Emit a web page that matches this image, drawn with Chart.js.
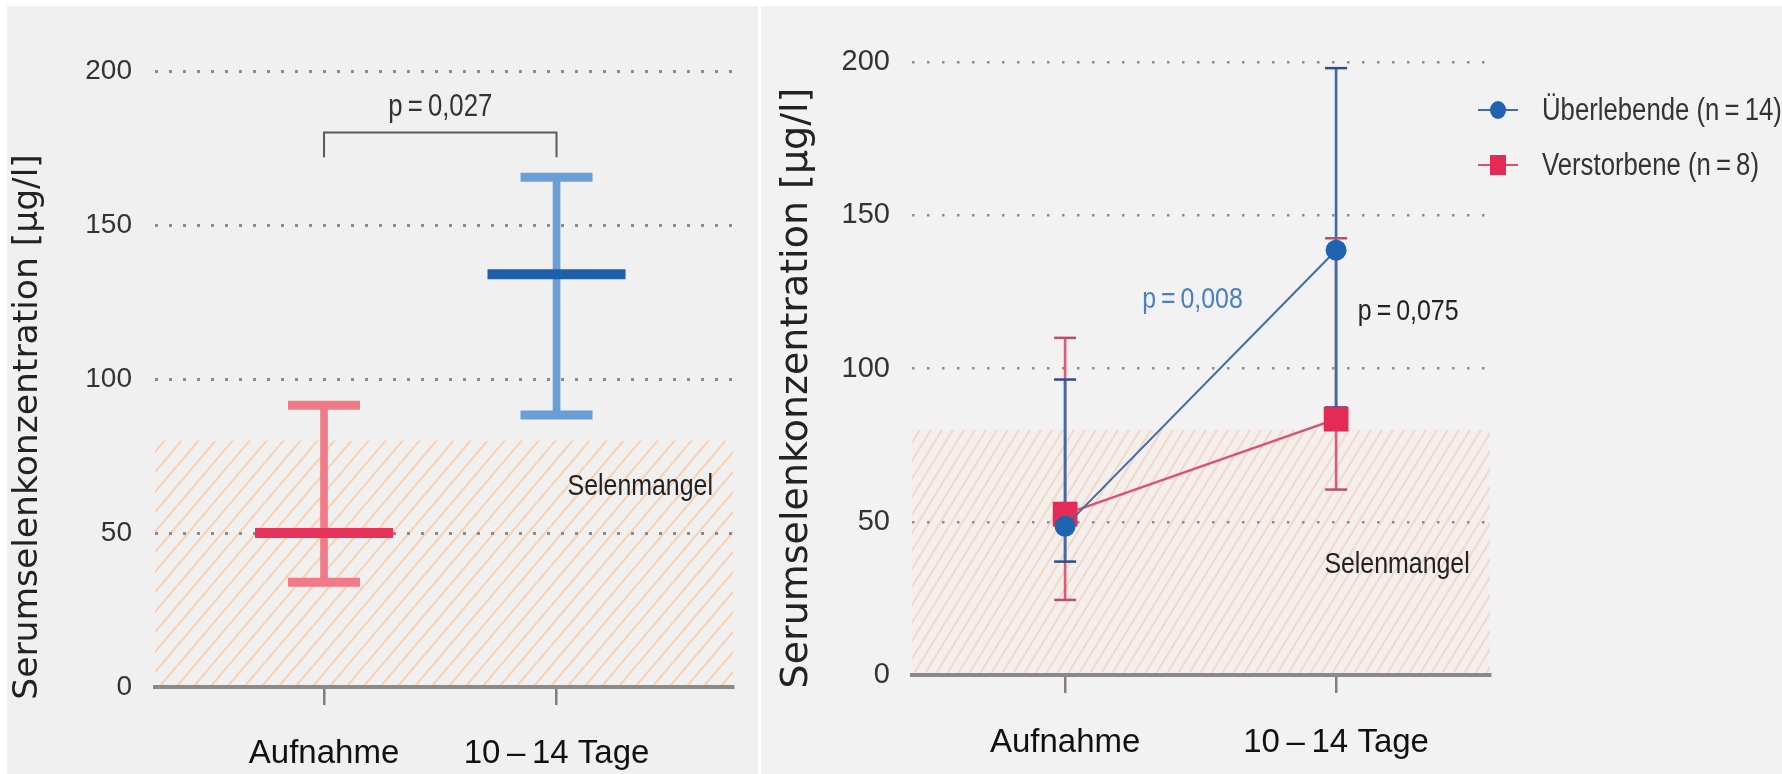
<!DOCTYPE html>
<html>
<head>
<meta charset="utf-8">
<script src="https://cdn.jsdelivr.net/npm/chart.js@4.4.0/dist/chart.umd.min.js"></script>
<style>
  html, body { margin: 0; padding: 0; background: #fff; }
  body { width: 1782px; height: 774px; position: relative; overflow: hidden; }
  .panel { position: absolute; top: 6px; height: 768px; }
  #leftPanel { left: 7px; width: 751px; background: #f0f0f0; }
  #rightPanel { left: 761px; width: 1021px; background: #f2f2f2; }
</style>
</head>
<body>
<div class="panel" id="leftPanel"><canvas id="left" width="751" height="768"></canvas></div>
<div class="panel" id="rightPanel"><canvas id="right" width="1021" height="768"></canvas></div>
<script>
// --------------------------------
// || Data
// --------------------------------

const categories = ['Aufnahme', '10\u2009\u2013\u200914 Tage'];
const yTicks = [0, 50, 100, 150, 200];
const deficiencyLimit = 80;

// left: all patients
const allMean = [50, 134];
const allLow = [34, 88.3];
const allHigh = [91.5, 165.5];

// right: survivors vs. deceased
const survivorsMean = [48.5, 138.6];
const survivorsLow = [37, 87.3];
const survivorsHigh = [96.4, 198];
const deceasedMean = [52.5, 83.5];
const deceasedLow = [24.5, 60.5];
const deceasedHigh = [110, 142.5];

// --------------------------------
// || Helpers
// --------------------------------

const sans = "'Liberation Sans', Arial, sans-serif";
const wide = "'DejaVu Sans', Verdana, sans-serif";
const axisTitle = 'Serumselenkonzentration [\u00b5g/l]';
const squeeze = 0.83; // the original uses a narrow face

const toPoints = (ys) => ys.map((y, i) => ({ x: i, y: y }));
const toRanges = (lo, hi) => lo.map((l, i) => ({ x: i, y: [l, hi[i]] }));
const capPoints = (lo, hi) => toPoints(lo).concat(toPoints(hi));

function narrowText(ctx, text, x, y, align) {
    ctx.save();
    ctx.translate(x, y);
    ctx.scale(squeeze, 1);
    ctx.textAlign = align;
    ctx.fillText(text, 0, 0);
    ctx.restore();
}

function hatchPattern(ctx, w, h, line, bg, lw) {
    const c = document.createElement('canvas');
    c.width = w;
    c.height = h;
    const g = c.getContext('2d');
    if (bg) {
        g.fillStyle = bg;
        g.fillRect(0, 0, w, h);
    }
    g.strokeStyle = line;
    g.lineWidth = lw;
    g.beginPath();
    for (let k = -1; k <= 1; k++) {
        g.moveTo(k * w, h);
        g.lineTo(k * w + w, 0);
    }
    g.stroke();
    return ctx.createPattern(c, 'repeat');
}

// hatched "Selenmangel" band, drawn under the grid
const hatchPlugin = {
    id: 'hatch',
    beforeDraw(chart, args, opts) {
        const { ctx, chartArea: a, scales: { y } } = chart;
        const top = y.getPixelForValue(deficiencyLimit);
        const bottom = y.getPixelForValue(0);
        ctx.save();
        ctx.fillStyle = hatchPattern(ctx, opts.w, opts.h, opts.line, opts.bg, opts.lw);
        ctx.fillRect(a.left, top, a.right - a.left, bottom - top);
        ctx.restore();
    }
};

// texts, bracket, rotated y title, legend
const notesPlugin = {
    id: 'notes',
    afterDraw(chart, args, opts) {
        const { ctx, scales: { x, y } } = chart;
        ctx.save();
        ctx.textBaseline = 'alphabetic';
        (opts.texts || []).forEach(t => {
            ctx.font = t.font;
            ctx.fillStyle = t.color;
            narrowText(ctx, t.text, x.getPixelForValue(t.x), y.getPixelForValue(t.y), 'center');
        });
        if (opts.bracket) {
            const b = opts.bracket;
            const x0 = x.getPixelForValue(0), x1 = x.getPixelForValue(1);
            const yt = y.getPixelForValue(b.top), yb = y.getPixelForValue(b.bottom);
            ctx.strokeStyle = '#5a5a5a';
            ctx.lineWidth = 2;
            ctx.beginPath();
            ctx.moveTo(x0, yb);
            ctx.lineTo(x0, yt);
            ctx.lineTo(x1, yt);
            ctx.lineTo(x1, yb);
            ctx.stroke();
        }
        if (opts.title) {
            const t = opts.title;
            ctx.save();
            ctx.translate(t.cx, t.cy);
            ctx.rotate(-Math.PI / 2);
            ctx.font = t.font;
            ctx.fillStyle = '#222';
            ctx.textAlign = 'center';
            ctx.textBaseline = 'middle';
            ctx.fillText(axisTitle, 0, 0);
            ctx.restore();
        }
        if (opts.legend) {
            const l = opts.legend;
            chart.data.datasets.filter(d => d.legend).forEach((d, i) => {
                const cy = l.y + i * l.gap;
                ctx.strokeStyle = d.borderColor;
                ctx.lineWidth = 2;
                ctx.beginPath();
                ctx.moveTo(l.x - 20, cy);
                ctx.lineTo(l.x + 20, cy);
                ctx.stroke();
                ctx.fillStyle = d.pointBackgroundColor;
                if (d.pointStyle === 'circle') {
                    ctx.beginPath();
                    ctx.ellipse(l.x, cy, 8, 9, 0, 0, Math.PI * 2);
                    ctx.fill();
                } else {
                    ctx.fillRect(l.x - 8, cy - 10, 16, 20);
                }
                ctx.font = l.font;
                ctx.fillStyle = '#333';
                ctx.textBaseline = 'middle';
                narrowText(ctx, d.label, l.x + 44, cy + 1, 'left');
            });
        }
        ctx.restore();
    }
};

function baseScales(o) {
    return {
        x: {
            type: 'linear',
            min: o.xMin,
            max: o.xMax,
            offset: false,
            afterBuildTicks: s => { s.ticks = categories.map((c, i) => ({ value: i })); },
            afterFit: s => {
                s.height = o.xHeight;
                s.paddingLeft = 0;
                s.paddingRight = 0;
            },
            grid: { offset: false, drawOnChartArea: false, drawTicks: true, tickLength: 18, color: '#808080', lineWidth: 2.5 },
            border: { display: true, color: '#8a8a8a', width: 4 },
            ticks: {
                callback: v => categories[v],
                autoSkip: false,
                maxRotation: 0,
                padding: o.labelPad,
                color: '#111',
                font: { family: sans, size: 33 }
            }
        },
        y: {
            min: 0,
            max: 200,
            afterBuildTicks: s => { s.ticks = yTicks.map(v => ({ value: v })); },
            afterFit: s => {
                s.width = o.yWidth;
                s.paddingTop = 0;
                s.paddingBottom = 0;
            },
            grid: { color: '#8c8c8c', lineWidth: o.dotWidth, drawTicks: false },
            border: { display: false, dash: o.dash },
            ticks: { padding: o.tickPad, color: '#333', font: { family: sans, size: o.tickSize } }
        }
    };
}

Chart.defaults.animation = false;
Chart.defaults.events = [];
Chart.defaults.plugins.legend.display = false;
Chart.defaults.plugins.tooltip.enabled = false;

// --------------------------------
// || Left chart: all patients
// --------------------------------

const meanColors = ['#e8325a', '#1d5fab'];
const whiskerColors = ['#f07a85', '#6a9ed6'];

new Chart(document.getElementById('left'), {
    type: 'scatter',
    plugins: [hatchPlugin, notesPlugin],
    data: {
        datasets: [
            {
                data: toPoints(allMean),
                pointStyle: 'line',
                pointRadius: 69,
                pointBorderWidth: 10,
                pointBorderColor: meanColors,
                order: 0
            },
            {
                data: capPoints(allLow, allHigh),
                pointStyle: 'line',
                pointRadius: 36,
                pointBorderWidth: 9,
                pointBorderColor: whiskerColors.concat(whiskerColors),
                order: 1
            },
            {
                type: 'bar',
                data: toRanges(allLow, allHigh),
                backgroundColor: whiskerColors,
                barThickness: 7,
                grouped: false,
                order: 3
            }
        ]
    },
    options: {
        responsive: false,
        layout: { autoPadding: false, padding: { left: 0, right: 25, top: 65, bottom: 0 } },
        scales: baseScales({
            xMin: -0.727, xMax: 1.759, xHeight: 87, yWidth: 148, labelPad: 29,
            tickPad: 23, tickSize: 28, dotWidth: 3, dash: [3, 11]
        }),
        plugins: {
            hatch: { w: 17, h: 20, line: '#fbcfae', bg: null, lw: 2 },
            notes: {
                texts: [
                    { text: 'p\u2009=\u20090,027', x: 0.5, y: 185.5, color: '#333', font: '31px ' + sans },
                    { text: 'Selenmangel', x: 1.36, y: 62.5, color: '#222', font: '30px ' + sans }
                ],
                bracket: { top: 180, bottom: 172 },
                title: { cx: 21, cy: 421, font: '34.5px ' + wide }
            }
        }
    }
});

// --------------------------------
// || Right chart: survivors vs. deceased
// --------------------------------

const blue = '#1f62b0';
const red = '#e42b55';

new Chart(document.getElementById('right'), {
    type: 'scatter',
    plugins: [hatchPlugin, notesPlugin],
    data: {
        datasets: [
            {
                label: '\u00dcberlebende (n\u2009=\u200914)',
                legend: true,
                data: toPoints(survivorsMean),
                showLine: true,
                borderColor: '#3f6aa8',
                borderWidth: 2,
                pointStyle: 'circle',
                pointRadius: 10.5,
                pointBackgroundColor: blue,
                pointBorderColor: blue,
                pointBorderWidth: 0,
                order: 0
            },
            {
                label: 'Verstorbene (n\u2009=\u20098)',
                legend: true,
                data: toPoints(deceasedMean),
                showLine: true,
                borderColor: '#e0506e',
                borderWidth: 2.5,
                pointStyle: 'rect',
                pointRadius: 17.5,
                pointBackgroundColor: red,
                pointBorderColor: red,
                pointBorderWidth: 0,
                order: 1
            },
            {
                data: capPoints(survivorsLow, survivorsHigh),
                pointStyle: 'line',
                pointRadius: 11,
                pointBorderWidth: 2.5,
                pointBorderColor: '#2d4f86',
                order: 2
            },
            {
                data: capPoints(deceasedLow, deceasedHigh),
                pointStyle: 'line',
                pointRadius: 11,
                pointBorderWidth: 2.5,
                pointBorderColor: '#b8506a',
                order: 2
            },
            {
                type: 'bar',
                data: toRanges(survivorsLow, survivorsHigh),
                backgroundColor: '#3a6db0',
                barThickness: 2,
                grouped: false,
                order: 3
            },
            {
                type: 'bar',
                data: toRanges(deceasedLow, deceasedHigh),
                backgroundColor: '#e05a78',
                barThickness: 2,
                grouped: false,
                order: 4
            }
        ]
    },
    options: {
        responsive: false,
        layout: { autoPadding: false, padding: { left: 0, right: 292, top: 56, bottom: 0 } },
        scales: baseScales({
            xMin: -0.565, xMax: 1.568, xHeight: 99, yWidth: 151, labelPad: 30,
            tickPad: 22, tickSize: 29, dotWidth: 2.5, dash: [2.5, 12.5]
        }),
        plugins: {
            hatch: { w: 11, h: 18, line: '#efd8cc', bg: '#f5efec', lw: 2 },
            notes: {
                texts: [
                    { text: 'p\u2009=\u20090,008', x: 0.47, y: 119.7, color: '#4d80bf', font: '30px ' + sans },
                    { text: 'p\u2009=\u20090,075', x: 1.266, y: 115.8, color: '#222', font: '30px ' + sans },
                    { text: 'Selenmangel', x: 1.225, y: 33.3, color: '#222', font: '30px ' + sans }
                ],
                title: { cx: 36, cy: 382, font: '38px ' + wide },
                legend: { x: 737, y: 104, gap: 55, font: '31px ' + sans }
            }
        }
    }
});
</script>
</body>
</html>
